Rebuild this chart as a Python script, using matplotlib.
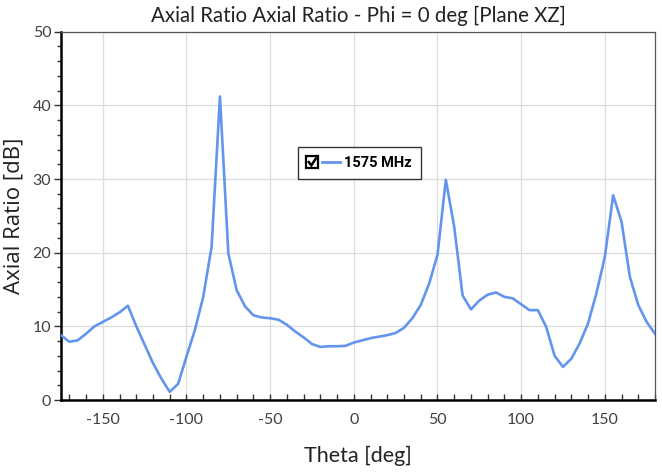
import matplotlib
matplotlib.use("Agg")
import matplotlib.pyplot as plt
from matplotlib.legend_handler import HandlerBase
from matplotlib.lines import Line2D
from matplotlib.patches import Rectangle
from matplotlib.ticker import MultipleLocator

plt.rcParams["axes.unicode_minus"] = False

theta = [-175, -170, -165, -160, -155, -150, -145, -140, -135, -130, -125, -120, -115, -110,
         -105, -100, -95, -90, -85, -80, -75, -70, -65, -60, -55, -50, -45, -40, -35, -30,
         -25, -20, -15, -10, -5, 0, 5, 10, 15, 20, 25, 30, 35, 40, 45, 50, 55, 60, 65, 70,
         75, 80, 85, 90, 95, 100, 105, 110, 115, 120, 125, 130, 135, 140, 145, 150, 155, 160,
         165, 170, 175, 180]
axial_ratio = [8.8, 7.9, 8.1, 9.0, 10.0, 10.6, 11.2, 11.9, 12.8, 10.0, 7.5, 5.0, 2.9, 1.1,
               2.2, 5.9, 9.5, 14.0, 20.8, 41.2, 19.9, 14.9, 12.7, 11.5, 11.2, 11.1, 10.9, 10.2,
               9.3, 8.5, 7.6, 7.2, 7.3, 7.3, 7.35, 7.8, 8.1, 8.4, 8.6, 8.8, 9.1, 9.8, 11.1, 12.9,
               15.8, 19.7, 29.9, 23.5, 14.2, 12.3, 13.5, 14.3, 14.6, 14.0, 13.8, 13.0, 12.2, 12.2,
               9.9, 6.0, 4.5, 5.6, 7.7, 10.4, 14.5, 19.4, 27.8, 24.2, 16.7, 12.9, 10.6, 9.0]
series_label = "1575 MHz"
title = "Axial Ratio Axial Ratio - Phi = 0 deg [Plane XZ]"
xlabel = "Theta [deg]"
ylabel = "Axial Ratio [dB]"
x_ticks = [-150, -100, -50, 0, 50, 100, 150]
y_ticks = [0, 10, 20, 30, 40, 50]

line_color = "#6495ED"
narrow = ["Lato", "DejaVu Sans"]


class CheckLineHandler(HandlerBase):
    def create_artists(self, legend, orig_handle, xdescent, ydescent, width, height,
                       fontsize, trans):
        x0 = -xdescent
        y0 = -ydescent
        s = height * 1.15
        yb = y0 + height / 2 - s / 2
        box = Rectangle((x0, yb), s, s, fill=False, ec="black", lw=1.6)
        box.set_transform(trans)
        chk = Line2D([x0 + s * 0.2, x0 + s * 0.42, x0 + s * 0.8],
                     [yb + s * 0.5, yb + s * 0.22, yb + s * 0.8],
                     color="black", lw=1.8, solid_joinstyle="miter")
        chk.set_transform(trans)
        ln = Line2D([x0 + s + width * 0.12, x0 + width],
                    [y0 + height / 2] * 2, color=orig_handle.get_color(), lw=2.0)
        ln.set_transform(trans)
        return [box, chk, ln]


fig = plt.figure(figsize=(6.62, 4.75), dpi=100)
ax = fig.add_axes([61 / 662, 75 / 475, 594 / 662, 368.3 / 475])

line, = ax.plot(theta, axial_ratio, color=line_color, lw=1.9, label=series_label,
                solid_joinstyle="round", zorder=3)

ax.set_xlim(-175, 180)
ax.set_ylim(0, 50)
ax.set_xticks(x_ticks)
ax.set_yticks(y_ticks)
ax.xaxis.set_minor_locator(MultipleLocator(10))
ax.yaxis.set_minor_locator(MultipleLocator(2))
ax.grid(True, which="major", color="#dcdcdc", lw=0.9, zorder=0)

for side in ["left", "bottom"]:
    ax.spines[side].set_color("black")
    ax.spines[side].set_linewidth(1.8)
for side in ["top", "right"]:
    ax.spines[side].set_color("#555555")
    ax.spines[side].set_linewidth(0.9)

ax.tick_params(axis="x", which="major", direction="in", length=4, width=1.0, colors="#333333",
               labelsize=11.5, labelcolor="#404040", pad=9)
ax.tick_params(axis="x", which="minor", direction="in", length=4, width=1.0, colors="#333333")
ax.tick_params(axis="y", which="major", direction="out", length=5, width=1.0, colors="#333333",
               labelsize=11.5, labelcolor="#404040", pad=2)
ax.tick_params(axis="y", which="minor", direction="out", length=3, width=1.0, colors="#333333")
for lab in ax.get_xticklabels() + ax.get_yticklabels():
    lab.set_family(narrow)

ax.set_title(title, fontsize=14.8, family=narrow, color="#222222", pad=7)
ax.set_xlabel(xlabel, fontsize=15.5, family=narrow, color="#222222", labelpad=14)
ax.set_ylabel(ylabel, fontsize=16, family=["Open Sans", "DejaVu Sans"],
              color="#222222", labelpad=6)

leg = ax.legend(handles=[line], handler_map={Line2D: CheckLineHandler()},
                loc="center", bbox_to_anchor=(0.502, 0.643), fancybox=False,
                framealpha=1, edgecolor="#333333", handlelength=2.3, handletextpad=0.3,
                borderpad=0.6, prop={"family": ["Roboto", "DejaVu Sans"], "size": 10.5,
                                     "weight": "bold"})
leg.get_frame().set_linewidth(1.0)

fig.savefig("out.png", dpi=100)
